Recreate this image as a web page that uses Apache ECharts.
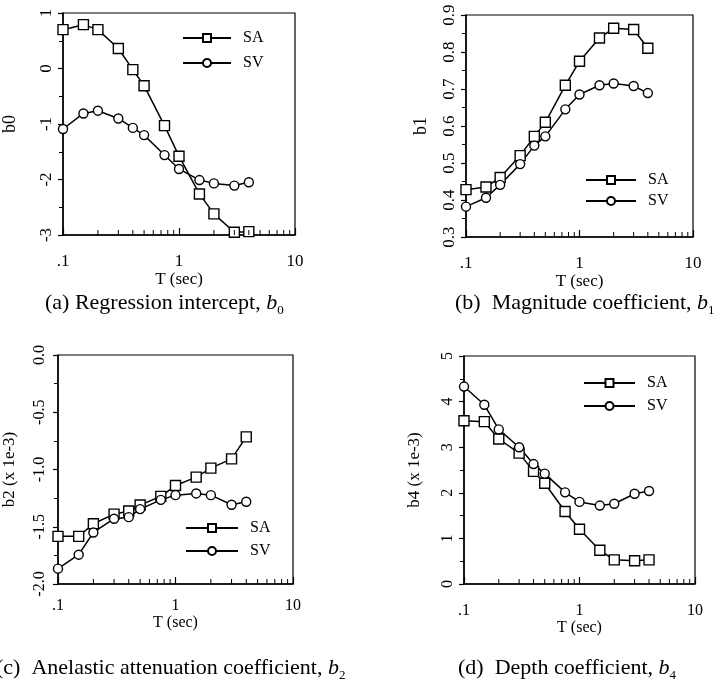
<!DOCTYPE html>
<html><head><meta charset="utf-8">
<script src="https://cdn.jsdelivr.net/npm/echarts@6/dist/echarts.min.js"></script>
<style>html,body{margin:0;padding:0;background:#fff}#c{width:726px;height:690px}</style>
</head><body><div id="c"></div>
<script>
// Periods (s)
const T = [0.1, 0.15, 0.2, 0.3, 0.4, 0.5, 0.75, 1.0, 1.5, 2.0, 3.0, 4.0];
// (a) b0
const b0SA = [0.70, 0.79, 0.70, 0.36, -0.02, -0.31, -1.03, -1.58, -2.26, -2.62, -2.95, -2.94];
const b0SV = [-1.09, -0.81, -0.76, -0.90, -1.07, -1.20, -1.56, -1.81, -2.01, -2.07, -2.11, -2.05];
// (b) b1
const b1SA = [0.428, 0.435, 0.461, 0.520, 0.572, 0.610, 0.710, 0.775, 0.838, 0.864, 0.861, 0.810];
const b1SV = [0.382, 0.406, 0.441, 0.497, 0.547, 0.572, 0.645, 0.685, 0.710, 0.715, 0.708, 0.689];
// (c) b2 (x 1e-3)
const b2SA = [-1.584, -1.584, -1.474, -1.39, -1.363, -1.31, -1.235, -1.14, -1.067, -0.988, -0.907, -0.715];
const b2SV = [-1.866, -1.744, -1.55, -1.43, -1.416, -1.346, -1.265, -1.224, -1.209, -1.224, -1.308, -1.282];
// (d) b4 (x 1e-3)
const b4SA = [3.58, 3.56, 3.18, 2.87, 2.47, 2.21, 1.59, 1.20, 0.74, 0.53, 0.51, 0.53];
const b4SV = [4.33, 3.93, 3.39, 3.00, 2.63, 2.42, 2.01, 1.80, 1.72, 1.76, 1.98, 2.04];

const xTickLabels = ['.1', '1', '10'];
const minorT = [0.2,0.3,0.4,0.5,0.6,0.7,0.8,0.9,2,3,4,5,6,7,8,9];
const yTicksA = ['-3', '-2', '-1', '0', '1'];
const yTicksB = ['0.3', '0.4', '0.5', '0.6', '0.7', '0.8', '0.9'];
const yTicksC = ['-2.0', '-1.5', '-1.0', '-0.5', '0.0'];
const yTicksD = ['0', '1', '2', '3', '4', '5'];
const yNames = ['b0', 'b1', 'b2 (x 1e-3)', 'b4 (x 1e-3)'];

const FF = 'Liberation Serif';
const panels = [
  {grid:{left:59, top:13, width:236, height:222}, y:[-3,1,1], yt:yTicksA, sa:b0SA, sv:b0SV,
   yGap:44, xGap:33, xMargin:18, yMargin:8, fs:17,
   legend:{left:182, top:30, itemWidth:48, itemGap:9}},
  {grid:{left:466, top:15, width:227, height:222}, y:[0.3,0.9,0.1], yt:yTicksB, sa:b1SA, sv:b1SV,
   yGap:36, xGap:27, xMargin:18, yMargin:8, fs:17,
   legend:{left:585, top:172, itemWidth:50, itemGap:5}},
  {grid:{left:58, top:355, width:235, height:229}, y:[-2,0,0.5], yt:yTicksC, sa:b2SA, sv:b2SV,
   yGap:40, xGap:29, xMargin:14, yMargin:10, fs:16,
   legend:{left:185, top:520, itemWidth:52, itemGap:7}},
  {grid:{left:464, top:356, width:231, height:228}, y:[0,5,1], yt:yTicksD, sa:b4SA, sv:b4SV,
   yGap:41, xGap:34, xMargin:19, yMargin:8, fs:16,
   legend:{left:583, top:375, itemWidth:51, itemGap:7}}
];

const grid = [], xAxis = [], yAxis = [], series = [], legend = [];
panels.forEach((p, i) => {
  grid.push(Object.assign({show:true, borderColor:'#000', borderWidth:1.2, backgroundColor:'transparent'}, p.grid));
  xAxis.push({type:'log', logBase:10, min:0.1, max:10, gridIndex:i,
    name:'T (sec)', nameLocation:'middle', nameGap:p.xGap,
    nameTextStyle:{fontFamily:FF, fontSize:p.fs, color:'#000'},
    axisLine:{show:true, onZero:false, lineStyle:{color:'#000', width:1.5}},
    axisTick:{show:true, inside:true, length:7, lineStyle:{color:'#000', width:1.2}},
    axisLabel:{margin:p.xMargin, fontFamily:FF, fontSize:p.fs, color:'#000',
      formatter:(v, idx) => xTickLabels[idx]},
    splitLine:{show:false}});
  yAxis.push({type:'value', min:p.y[0], max:p.y[1], interval:p.y[2], gridIndex:i,
    name:yNames[i], nameLocation:'middle', nameGap:p.yGap,
    nameTextStyle:{fontFamily:FF, fontSize:p.fs + 1, color:'#000'},
    axisLine:{show:true, onZero:false, lineStyle:{color:'#000', width:1.5}},
    axisTick:{show:true, inside:false, length:5, lineStyle:{color:'#000', width:1.2}},
    minorTick:{show:true, splitNumber:2, length:4, lineStyle:{color:'#000', width:1}},
    axisLabel:{rotate:90, margin:p.yMargin, fontFamily:FF, fontSize:p.fs, color:'#000',
      formatter:(v, idx) => p.yt[idx]},
    splitLine:{show:false}});
  const common = {type:'line', xAxisIndex:i, yAxisIndex:i, animation:false,
    lineStyle:{color:'#000', width:1.5},
    itemStyle:{color:'#fff', borderColor:'#000', borderWidth:1.4}, showSymbol:true, z:3};
  series.push(Object.assign({}, common, {name:'SA', symbol:'rect', symbolSize:10,
    data:T.map((t, j) => [t, p.sa[j]])}));
  series.push(Object.assign({}, common, {name:'SV', symbol:'circle', symbolSize:9,
    data:T.map((t, j) => [t, p.sv[j]])}));
  // minor log ticks on the bottom axis
  const ymin = p.y[0];
  series.push({type:'custom', xAxisIndex:i, yAxisIndex:i, silent:true, animation:false, z:4,
    data:minorT.map(v => [v, ymin]),
    renderItem:(params, api) => {
      const c = api.coord([api.value(0), api.value(1)]);
      return {type:'line', shape:{x1:c[0], y1:c[1], x2:c[0], y2:c[1] - 5},
        style:{stroke:'#000', lineWidth:1}};
    }});
  legend.push(Object.assign({orient:'vertical', itemHeight:10, padding:0, selectedMode:false,
    data:['SA', 'SV'], textStyle:{fontFamily:FF, fontSize:16, color:'#000', padding:[0,0,0,7]}}, p.legend));
});

const capRich = {
  n:{fontFamily:FF, fontSize:22, color:'#000', lineHeight:28},
  i:{fontFamily:FF, fontSize:22, fontStyle:'italic', color:'#000', lineHeight:28},
  s:{fontFamily:FF, fontSize:13, color:'#000', verticalAlign:'bottom', lineHeight:28}
};
const captions = [
  {left:45, top:292, text:'{n|(a) Regression intercept, }{i|b}{s|0}'},
  {left:455, top:292, text:'{n|(b)  Magnitude coefficient, }{i|b}{s|1}'},
  {left:-4, top:657, text:'{n|(c)  Anelastic attenuation coefficient, }{i|b}{s|2}'},
  {left:458, top:657, text:'{n|(d)  Depth coefficient, }{i|b}{s|4}'}
];

const chart = echarts.init(document.getElementById('c'), null, {renderer:'canvas'});
chart.setOption({
  animation:false, backgroundColor:'#fff',
  grid, xAxis, yAxis, series, legend,
  graphic: captions.map(c => ({type:'text', left:c.left, top:c.top,
    style:{text:c.text, rich:capRich}}))
});
</script></body></html>
